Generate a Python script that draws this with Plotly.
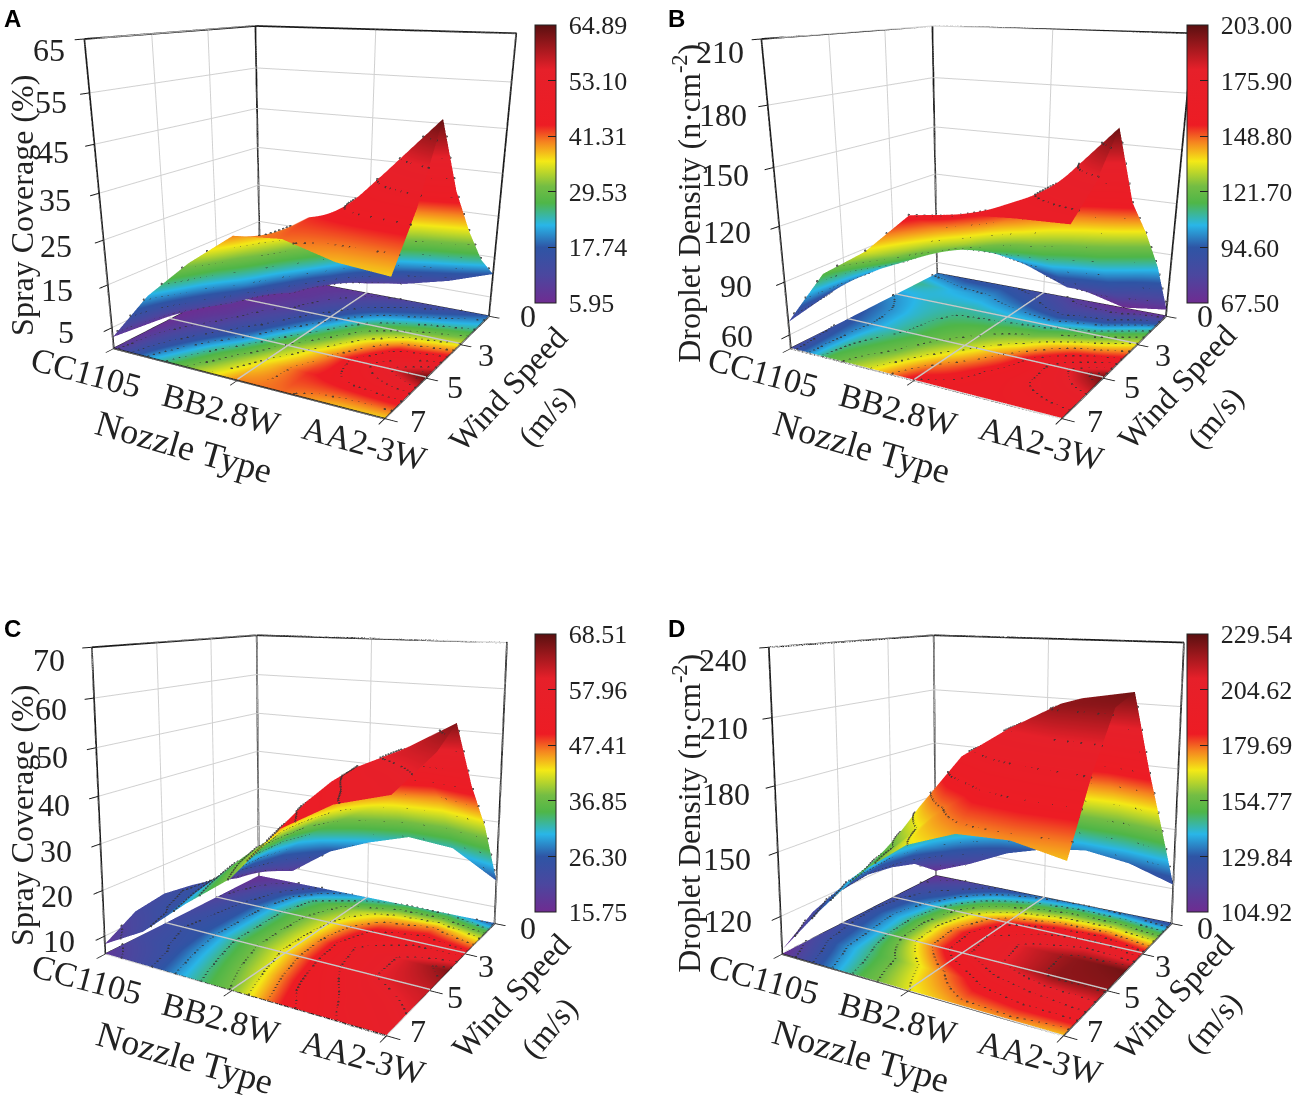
import numpy as np
import plotly.graph_objects as go

nozzle_labels = ["CC1105", "BB2.8W", "AA2-3W"]
wind_labels = ["0", "3", "5", "7"]
x_grid = [0, 0.33, 0.67, 1, 1.33, 1.67, 2]
w_grid = [0, 0.5, 1, 1.5, 2, 2.5, 3]

# rows = wind position, columns = nozzle position
values_a = [
    [8, 7, 8, 9, 11, 14, 18],
    [7, 7, 9, 13, 18, 22, 25],
    [6, 8, 11, 18, 27, 32, 35],
    [6, 9, 15, 24, 34, 44, 47],
    [7, 12, 20, 31, 40, 52, 64],
    [8, 17, 27, 36, 43, 46, 48],
    [9, 22, 32, 40, 41, 38, 37],
]
values_b = [
    [98, 92, 92, 85, 75, 68, 72],
    [112, 105, 102, 95, 85, 90, 108],
    [102, 108, 110, 108, 108, 118, 135],
    [96, 106, 115, 120, 130, 148, 158],
    [92, 106, 118, 130, 148, 172, 200],
    [88, 112, 125, 144, 158, 170, 178],
    [84, 118, 135, 158, 162, 164, 165],
]
values_c = [
    [17, 19, 26, 30, 33, 32, 26],
    [18, 24, 33, 39, 44, 46, 41],
    [20, 26, 35, 42, 51, 54, 52],
    [22, 26, 35, 43, 55, 60, 66],
    [23, 26, 35, 43, 54, 60, 62],
    [22, 25, 33, 41, 52, 57, 60],
    [18, 23, 31, 38, 49, 55, 58],
]
values_d = [
    [108, 116, 126, 132, 135, 132, 125],
    [118, 128, 146, 158, 165, 166, 158],
    [122, 138, 165, 185, 195, 200, 190],
    [124, 142, 172, 198, 212, 222, 226],
    [122, 140, 170, 196, 210, 222, 222],
    [118, 138, 156, 175, 190, 196, 200],
    [107, 130, 152, 167, 175, 176, 172],
]

colorscale = [
    [0.00, "#6f2c91"], [0.10, "#4b479f"], [0.20, "#2e55a5"], [0.28, "#29b6e8"],
    [0.36, "#4fb648"], [0.42, "#74bd44"], [0.51, "#f4e916"], [0.58, "#f58220"],
    [0.64, "#ed1c24"], [0.84, "#e6202a"], [1.00, "#5a1010"],
]

W, H = 1301, 1098
SERIF = "Liberation Serif"
ASPECT_TOP = dict(x=0.985, y=0.908, z=0.966)
ASPECT_BOTTOM = dict(x=0.967, y=0.870, z=0.956)
UP = dict(x=0, y=0, z=1)
CAM_TOP = dict(eye=dict(x=1.324, y=-2.379, z=0.632), center=dict(x=-0.105, y=0.102, z=-0.614), up=UP)
CAM_BOTTOM = dict(eye=dict(x=1.309, y=-2.253, z=0.629), center=dict(x=-0.063, y=0.041, z=0.140), up=UP)
NOZZLE_SHIFT_TOP = [(-28, -25), (-16, -30), (-20, -26)]
NOZZLE_SHIFT_BOTTOM = [(-18, -26), (-10, -28), (-23, -22)]
WIND_SHIFT_TOP = [(39, 0), (26, -11), (29, -9), (33, -3)]
WIND_SHIFT_BOTTOM = [(33, -5), (21, -13), (25, -7), (31, 4)]


def px(x):
    return x / W


def py(y):
    return 1 - y / H


panels = [
    dict(name="scene", letter="A", vals=values_a, zr=[0, 65], zt=[5, 15, 25, 35, 45, 55, 65], k=0.9,
         cb=[5.95, 17.74, 29.53, 41.31, 53.10, 64.89], dx=0, dy=0, ztitle="Spray Coverage (%)", zc=(22, 205),
         nc=(185, 447), wc=(510, 389), mc=(549, 415), dom=(0, 700), cam=CAM_TOP, asp=ASPECT_TOP,
         ns=NOZZLE_SHIFT_TOP, ws=WIND_SHIFT_TOP, zs=(-37, -17, -4, -10)),
    dict(name="scene2", letter="B", vals=values_b, zr=[52, 210], zt=[60, 90, 120, 150, 180, 210], k=0.93,
         cb=[67.50, 94.60, 121.70, 148.80, 175.90, 203.00], dx=680, dy=0,
         ztitle="Droplet Density (n·cm<sup>-2</sup>)", zc=(690, 203),
         nc=(866, 447), wc=(1182, 387), mc=(1221, 417), dom=(0, 700), cam=CAM_TOP, asp=ASPECT_TOP,
         ns=NOZZLE_SHIFT_TOP, ws=WIND_SHIFT_TOP, zs=(-35, -15, -1, -12)),
    dict(name="scene3", letter="C", vals=values_c, zr=[6, 70], zt=[10, 20, 30, 40, 50, 60, 70], k=1.0,
         cb=[15.75, 26.30, 36.85, 47.41, 57.96, 68.51], dx=0, dy=610, ztitle="Spray Coverage (%)", zc=(22, 815),
         nc=(186, 1058), wc=(513, 996), mc=(552, 1027), dom=(400, 1098), cam=CAM_BOTTOM, asp=ASPECT_BOTTOM,
         ns=NOZZLE_SHIFT_BOTTOM, ws=WIND_SHIFT_BOTTOM, zs=(-28, -25, -4, -12)),
    dict(name="scene4", letter="D", vals=values_d, zr=[102, 240], zt=[120, 150, 180, 210, 240], k=1.0,
         cb=[104.92, 129.84, 154.77, 179.69, 204.62, 229.54], dx=680, dy=610,
         ztitle="Droplet Density (n·cm<sup>-2</sup>)", zc=(690, 813),
         nc=(865, 1056), wc=(1179, 997), mc=(1219, 1022), dom=(400, 1098), cam=CAM_BOTTOM, asp=ASPECT_BOTTOM,
         ns=NOZZLE_SHIFT_BOTTOM, ws=WIND_SHIFT_BOTTOM, zs=(-27, -20, -4, -12)),
]


def contour_dots(v, levels, factor=8):
    """Crossings of each level on a finer sampling of the mesh: they give a dotted contour."""
    v = np.asarray(v, float)
    xf = np.linspace(x_grid[0], x_grid[-1], (len(x_grid) - 1) * factor + 1)
    wf = np.linspace(w_grid[0], w_grid[-1], (len(w_grid) - 1) * factor + 1)
    a = np.array([np.interp(xf, x_grid, r) for r in v])
    fine = np.array([np.interp(wf, w_grid, a[:, j]) for j in range(a.shape[1])]).T
    gw, gx = np.gradient(fine)
    xs, ws, zs = [], [], []
    for lv in levels:
        d = fine - lv
        i, j = np.where((d[:, :-1] * d[:, 1:] < 0) & (np.abs(gx[:, :-1]) >= np.abs(gw[:, :-1])))
        t = d[i, j] / (d[i, j] - d[i, j + 1])
        xs.extend(xf[j] + t * (xf[j + 1] - xf[j]))
        ws.extend(wf[i])
        zs.extend([lv] * len(i))
        i, j = np.where((d[:-1, :] * d[1:, :] < 0) & (np.abs(gw[:-1, :]) > np.abs(gx[:-1, :])))
        t = d[i, j] / (d[i, j] - d[i + 1, j])
        xs.extend(xf[j])
        ws.extend(wf[i] + t * (wf[i + 1] - wf[i]))
        zs.extend([lv] * len(i))
    return np.array(xs), np.array(ws), np.array(zs)


fig = go.Figure()
layout_scenes = {}
annotations = []

for p in panels:
    v = np.array(p["vals"], float)
    zlo, zhi = p["zr"]
    k = p["k"]
    cmin, cmax = p["cb"][0], p["cb"][-1]
    eps = (zhi - zlo) * 0.002
    common = dict(colorscale=colorscale, cmin=cmin, cmax=cmax, hoverinfo="skip",
                  lighting=dict(ambient=1, diffuse=0, specular=0, roughness=1, fresnel=0))
    fig.add_trace(go.Surface(
        x=x_grid, y=w_grid, z=zlo + k * (v - cmin), surfacecolor=v, scene=p["name"], **common,
        colorbar=dict(
            tickvals=p["cb"], ticktext=[f"\u00a0{c:.2f}" for c in p["cb"]],
            x=px(537 + p["dx"] * 655 / 680), xanchor="left", y=py(25 + p["dy"] * 609 / 610), yanchor="top",
            lenmode="pixels", len=278, thicknessmode="pixels", thickness=21,
            outlinecolor="#222", outlinewidth=1, ticks="inside", ticklen=8, tickcolor="#222",
            tickfont=dict(family=SERIF, size=26, color="#222"), xpad=0, ypad=0,
        ),
    ))
    fig.add_trace(go.Surface(
        x=x_grid, y=w_grid, z=np.full_like(v, zlo + eps), surfacecolor=v, scene=p["name"],
        showscale=False, **common,
    ))
    levels = np.linspace(cmin, cmax, 13)[1:-1]
    xs, ws, zs = contour_dots(v, levels)
    dot = dict(size=1.4, color="rgba(40,40,40,0.8)")
    fig.add_trace(go.Scatter3d(x=xs, y=ws, z=zlo + k * (zs - cmin) + eps, mode="markers", marker=dot,
                               scene=p["name"], hoverinfo="skip", showlegend=False))
    fig.add_trace(go.Scatter3d(x=xs, y=ws, z=np.full_like(zs, zlo + 2 * eps), mode="markers", marker=dot,
                               scene=p["name"], hoverinfo="skip", showlegend=False))
    # floor grid
    gx = [1, 1, None, 0, 2, None, 0, 2]
    gy = [0, 3, None, 1, 1, None, 2, 2]
    fig.add_trace(go.Scatter3d(x=gx, y=gy, z=[zlo + 2 * eps if a is not None else None for a in gx], mode="lines",
                               line=dict(color="#c8c8c8", width=3), scene=p["name"],
                               hoverinfo="skip", showlegend=False))
    # box frame: floor outline, left vertical, top edges, back and right verticals
    tx = [0, 2, 2, 0, 0, 0, 0, 2, 2, None, 0, 0]
    ty = [3, 3, 0, 0, 3, 3, 0, 0, 0, None, 0, 0]
    tz = [zlo, zlo, zlo, zlo, zlo, zhi, zhi, zhi, zlo, None, zlo, zhi]
    fig.add_trace(go.Scatter3d(x=tx, y=ty, z=tz, mode="lines",
                               line=dict(color="#1a1a1a", width=3.5), scene=p["name"],
                               hoverinfo="skip", showlegend=False))

    axis_common = dict(showbackground=False, showspikes=False, zeroline=False, showline=False,
                       gridcolor="#d0d0d0", gridwidth=2, title=dict(text=""), ticks="outside",
                       tickcolor="#1a1a1a", tickwidth=2, showticklabels=False)

    scene_ann = []
    xfont = dict(family=SERIF, size=34, color="#222")
    tickfont = dict(family=SERIF, size=32, color="#222")
    for xv, lab, (sx, sy) in zip([0, 1, 2], nozzle_labels, p["ns"]):
        scene_ann.append(dict(x=xv, y=3, z=zlo + eps, text=lab, textangle=15, showarrow=False, font=xfont,
                              xanchor="center", yanchor="middle", xshift=sx, yshift=sy))
    for wv, lab, (sx, sy) in zip([0, 1, 2, 3], wind_labels, p["ws"]):
        scene_ann.append(dict(x=2, y=wv, z=zlo + eps, text=lab, showarrow=False, font=tickfont,
                              xanchor="center", yanchor="middle", xshift=sx, yshift=sy))
    sx0, sx1, sy0, sy1 = p["zs"]
    for zv in p["zt"]:
        t = (zv - zlo) / (zhi - zlo)
        scene_ann.append(dict(x=0, y=3, z=min(zv, zhi - eps), text=str(zv), showarrow=False, font=tickfont,
                              xanchor="right", yanchor="middle",
                              xshift=sx0 + t * (sx1 - sx0), yshift=sy0 + t * (sy1 - sy0)))

    dx, dy = p["dx"], p["dy"]
    layout_scenes[p["name"]] = dict(
        domain=dict(x=[px(dx), px(dx + 600)], y=[py(p["dom"][1]), py(p["dom"][0])]),
        xaxis=dict(range=[0, 2], tickvals=[0, 1, 2], ticktext=nozzle_labels, ticklen=10, **axis_common),
        yaxis=dict(range=[3, 0], tickvals=[0, 1, 2, 3], ticktext=wind_labels, ticklen=10, **axis_common),
        zaxis=dict(range=p["zr"], tickvals=p["zt"], ticklen=14, **axis_common),
        aspectmode="manual", aspectratio=p["asp"], camera=p["cam"], annotations=scene_ann,
    )

    for txt, (cx, cy), ang, size in [
        (p["ztitle"], p["zc"], -90, 32),
        ("Nozzle Type", p["nc"], 16, 36),
        ("Wind Speed", p["wc"], -47, 32),
        ("(m/s)", p["mc"], -50, 32),
    ]:
        annotations.append(dict(text=txt, x=px(cx), y=py(cy), xref="paper", yref="paper", showarrow=False,
                                xanchor="center", yanchor="middle", textangle=ang,
                                font=dict(family=SERIF, size=size, color="#222")))
    annotations.append(dict(text=f"<b>{p['letter']}</b>", x=px(2 + dx * 667 / 680), y=py(18 + dy), xref="paper",
                            yref="paper", showarrow=False, xanchor="left", yanchor="middle",
                            font=dict(family="Liberation Sans", size=24, color="#000")))

fig.update_layout(width=W, height=H, margin=dict(l=0, r=0, t=0, b=0), paper_bgcolor="white",
                  showlegend=False, annotations=annotations, **layout_scenes)
fig.write_html("out.html", config=dict(displayModeBar=False),
               post_script="document.body.style.margin='0';document.body.style.overflow='hidden';")
